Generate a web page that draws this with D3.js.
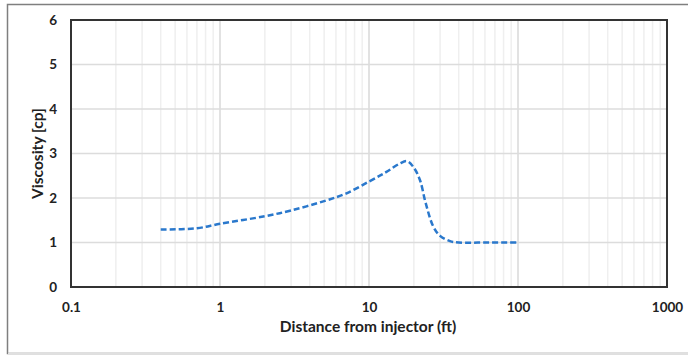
<!DOCTYPE html>
<html>
<head>
<meta charset="utf-8">
<script src="https://cdn.jsdelivr.net/npm/d3@7"></script>
<style>
  body { margin: 0; background: #fff; }
  text { font-family: Lato, "Open Sans", sans-serif; font-weight: bold; fill: #222; }
</style>
</head>
<body>
<div id="chart"></div>
<script>
// data
var distance = [0.4, 0.7, 1, 2, 3, 5, 7, 10, 13, 16, 18, 20, 22, 24, 27, 30, 35, 40, 60, 100]
var viscosity = [1.29, 1.32, 1.42, 1.59, 1.72, 1.93, 2.10, 2.37, 2.58, 2.77, 2.83, 2.68, 2.40, 1.89, 1.36, 1.15, 1.03, 1.0, 1.0, 1.0]
var xTicks = [0.1, 1, 10, 100, 1000]
var yTicks = [0, 1, 2, 3, 4, 5, 6]

var width = 688
    height = 355
    margin = {top: 20, right: 21, bottom: 68, left: 71}

var svg = d3.select("#chart")
  .append("svg")
    .attr("width", width)
    .attr("height", height)

// outer frame
svg.append("path")
  .attr("d", "M700,4.5 H7.5 V353.5 H700")
  .attr("fill", "none")
  .attr("stroke", "#7f7f7f")
  .attr("stroke-width", 1.5)
svg.append("line")
  .attr("x1", 8).attr("x2", 700).attr("y1", 353.5).attr("y2", 353.5)
  .attr("stroke", "#e0e0e0").attr("stroke-width", 1.5)

var x = d3.scaleLog()
  .domain([0.1, 1000])
  .range([margin.left, width - margin.right])

var y = d3.scaleLinear()
  .domain([0, 6])
  .range([height - margin.bottom, margin.top])

// minor vertical grid
var minor = []
for (var d = 0.1; d < 1000; d *= 10) {
  for (var k = 2; k <= 9; k++) minor.push(d * k)
}
svg.selectAll("minorGrid")
  .data(minor)
  .enter()
  .append("line")
    .attr("x1", function(d) { return x(d) }).attr("x2", function(d) { return x(d) })
    .attr("y1", y(6)).attr("y2", y(0))
    .attr("stroke", "#efefef")
    .attr("stroke-width", 1.5)

// major vertical grid
svg.selectAll("majorGrid")
  .data(xTicks)
  .enter()
  .append("line")
    .attr("x1", function(d) { return x(d) }).attr("x2", function(d) { return x(d) })
    .attr("y1", y(6)).attr("y2", y(0))
    .attr("stroke", "#d9d9d9")
    .attr("stroke-width", 1.5)

// horizontal grid
svg.selectAll("hGrid")
  .data(yTicks)
  .enter()
  .append("line")
    .attr("x1", x(0.1)).attr("x2", x(1000))
    .attr("y1", function(d) { return y(d) }).attr("y2", function(d) { return y(d) })
    .attr("stroke", "#dcdcdc")
    .attr("stroke-width", 1.5)

// plot box
svg.append("rect")
  .attr("x", x(0.1)).attr("y", y(6))
  .attr("width", x(1000) - x(0.1))
  .attr("height", y(0) - y(6))
  .attr("fill", "none")
  .attr("stroke", "#333")
  .attr("stroke-width", 2)

// axes labels
var xAxis = svg.append("g")
  .attr("transform", "translate(0," + (y(0) + 7) + ")")
  .call(d3.axisBottom(x).tickValues(xTicks).tickFormat(function(d) { return d3.format("")(d) }).tickSize(0).tickPadding(8))
xAxis.select(".domain").remove()
xAxis.selectAll("text").style("font-size", "13.5px").style("font-family", "Lato, sans-serif").attr("fill", "#222")

var yAxis = svg.append("g")
  .attr("transform", "translate(" + (x(0.1) - 10) + ",0)")
  .call(d3.axisLeft(y).tickValues(yTicks).tickFormat(d3.format("d")).tickSize(0).tickPadding(4))
yAxis.select(".domain").remove()
yAxis.selectAll("text").style("font-size", "13.5px").style("font-family", "Lato, sans-serif").attr("fill", "#222")

// the curve
var line = d3.line()
  .x(function(d, i) { return x(distance[i]) })
  .y(function(d) { return y(d) })
  .curve(d3.curveCatmullRom)

svg.append("path")
  .datum(viscosity)
  .attr("d", line)
  .attr("fill", "none")
  .attr("stroke", "#2a78cc")
  .attr("stroke-width", 2.5)
  .attr("stroke-dasharray", "6,3")

// titles
svg.append("text")
  .attr("x", (x(0.1) + x(1000)) / 2 - 1)
  .attr("y", 332)
  .attr("text-anchor", "middle")
  .style("font-size", "15.5px")
  .text("Distance from injector (ft)")

svg.append("text")
  .attr("transform", "translate(43," + y(3) + ") rotate(-90)")
  .attr("text-anchor", "middle")
  .style("font-size", "15.5px")
  .text("Viscosity [cp]")
</script>
</body>
</html>
